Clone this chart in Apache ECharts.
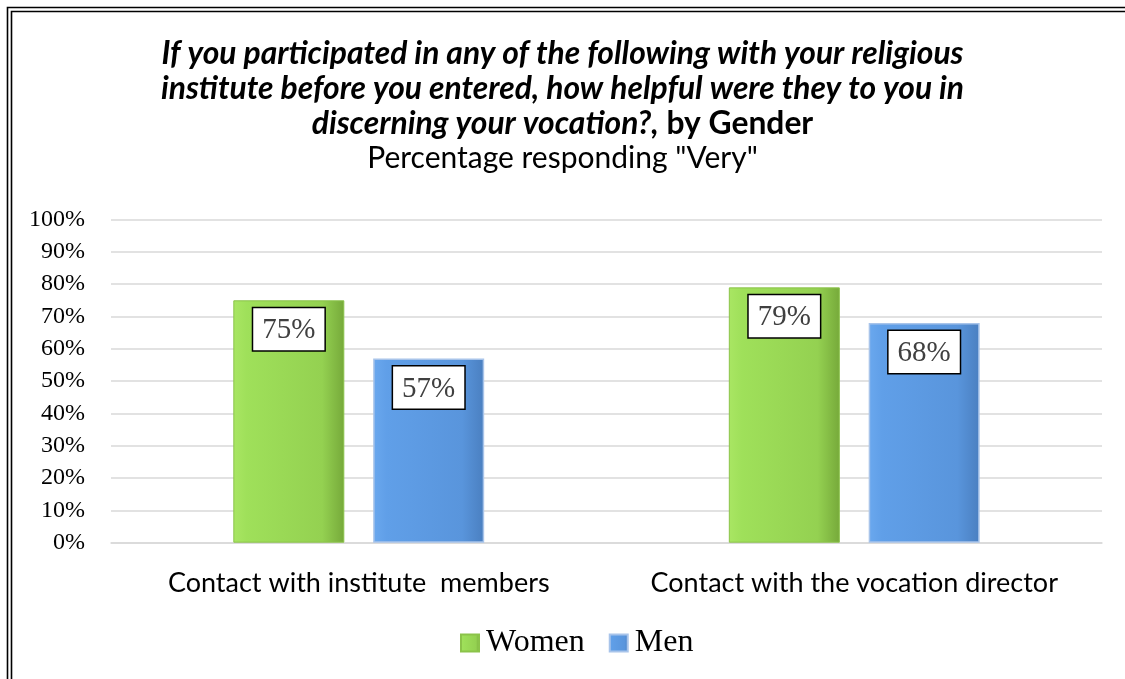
<!DOCTYPE html>
<html>
<head>
<meta charset="utf-8">
<script src="https://cdn.jsdelivr.net/npm/echarts@6/dist/echarts.min.js"></script>
<style>
html,body{margin:0;padding:0;background:#fff;overflow:hidden;}
#chart{width:1125px;height:679px;}
</style>
</head>
<body>
<div id="chart"></div>
<script>
const categories = ['Contact with institute  members', 'Contact with the vocation director'];
const seriesNames = ['Women', 'Men'];
const women = [75, 79];
const men = [57, 68];
const yTicks = [0, 10, 20, 30, 40, 50, 60, 70, 80, 90, 100];
const titleLines = [
  'If you participated in any of the following with your religious',
  'institute before you entered, how helpful were they to you in',
  'discerning your vocation?,'
];
const titleTail = ' by Gender';
const subtitle = 'Percentage responding "Very"';

const chart = echarts.init(document.getElementById('chart'));

function hGrad(stops) {
  return new echarts.graphic.LinearGradient(0, 0, 1, 0, stops.map(c => ({offset: c[0], color: c[1]})));
}
const greenFill = hGrad([[0, '#a9e663'], [0.12, '#9fe05a'], [0.8, '#94d151'], [1, '#76a93a']]);
const blueFill = hGrad([[0, '#6aa8ee'], [0.12, '#609fe8'], [0.8, '#5995dc'], [1, '#4a7fc0']]);

const labelStyle = {
  show: true,
  position: 'insideTop',
  distance: 8,
  formatter: p => p.value + '%',
  fontFamily: 'Liberation Serif',
  fontSize: 29,
  color: '#404040',
  backgroundColor: '#fff',
  borderColor: '#000',
  borderWidth: 1.5,
  padding: [8, 9, 5, 9]
};

const titleFont = 'Lato';
chart.setOption({
  animation: false,
  backgroundColor: '#fff',
  title: {
    left: 'center',
    top: 31,
    text: titleLines.map((l, i) => i < 2 ? '{i|' + l + '}' : '{i|' + l + '}{b|' + titleTail + '}').join('\n') + '\n{s|' + subtitle + '}',
    textStyle: {
      rich: {
        i: {fontFamily: titleFont, fontStyle: 'italic', fontWeight: 'bold', fontSize: 31.8, lineHeight: 35, color: '#000', align: 'center'},
        b: {fontFamily: titleFont, fontStyle: 'normal', fontWeight: 'bold', fontSize: 31.8, lineHeight: 35, color: '#000', align: 'center'},
        s: {fontFamily: titleFont, fontStyle: 'normal', fontWeight: 'normal', fontSize: 30, lineHeight: 35, color: '#000', align: 'center'}
      }
    }
  },
  graphic: [
    {type: 'rect', shape: {x: 7.5, y: 7.5, width: 1300, height: 900}, style: {fill: 'none', stroke: '#000', lineWidth: 1.6}, silent: true},
    {type: 'rect', shape: {x: 11.5, y: 11.5, width: 1300, height: 900}, style: {fill: 'none', stroke: '#000', lineWidth: 1.6}, silent: true}
  ],
  legend: {
    bottom: 15,
    left: 455,
    itemWidth: 18,
    itemHeight: 17,
    itemGap: 24,
    icon: 'rect',
    textStyle: {fontFamily: 'Liberation Serif', fontSize: 32, color: '#000', padding: [0, 0, 0, 2]},
    data: seriesNames
  },
  grid: {left: 111, right: 23, top: 219.5, bottom: 136.3, containLabel: false},
  xAxis: {
    type: 'category',
    data: categories,
    axisLine: {show: true, lineStyle: {color: '#d9d9d9', width: 1.5}},
    axisTick: {show: false},
    axisLabel: {fontFamily: 'Lato', fontSize: 27, color: '#000', margin: 27, interval: 0}
  },
  yAxis: {
    type: 'value',
    min: yTicks[0],
    max: yTicks[yTicks.length - 1],
    interval: yTicks[1] - yTicks[0],
    axisLine: {show: false},
    axisTick: {show: false},
    axisLabel: {fontFamily: 'Liberation Serif', fontSize: 24, color: '#000', margin: 26, formatter: v => v + '%'},
    splitLine: {lineStyle: {color: '#d9d9d9', width: 1.5}}
  },
  series: [
    {
      name: seriesNames[0], type: 'bar', data: women, barWidth: 111, barGap: '26%',
      itemStyle: {color: greenFill, borderColor: '#8bc34a', borderWidth: 1},
      label: labelStyle
    },
    {
      name: seriesNames[1], type: 'bar', data: men, barWidth: 111,
      itemStyle: {color: blueFill, borderColor: '#a8c4ea', borderWidth: 1.5},
      label: labelStyle
    }
  ]
});
</script>
</body>
</html>
